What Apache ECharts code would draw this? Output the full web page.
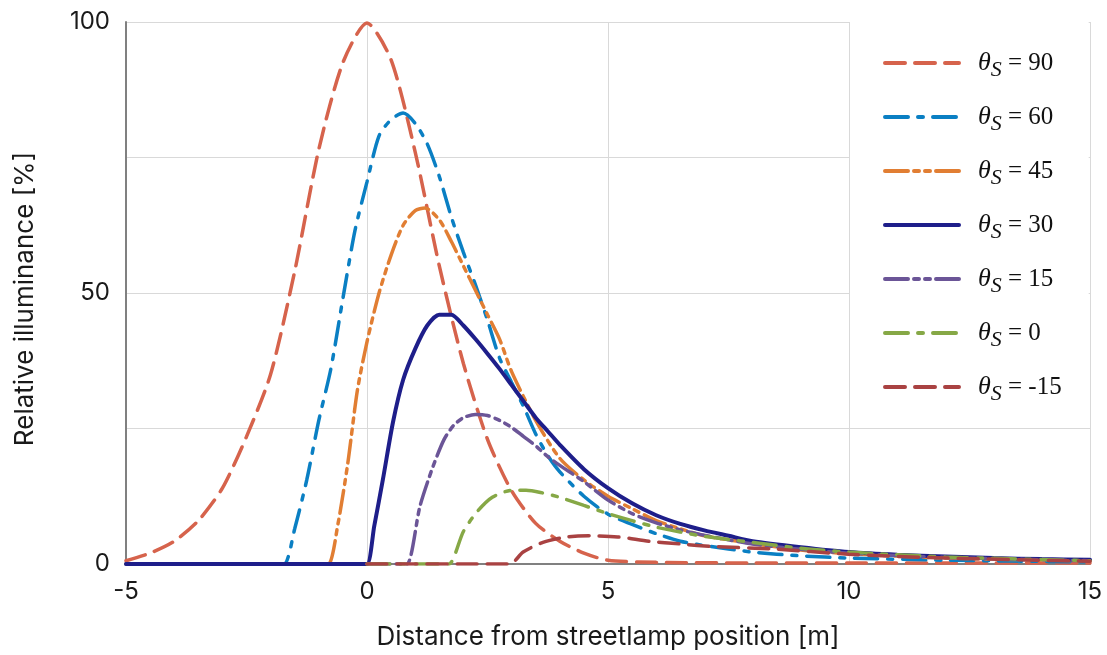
<!DOCTYPE html>
<html>
<head>
<meta charset="utf-8">
<title>Relative illuminance</title>
<script src="https://cdn.jsdelivr.net/npm/echarts@6/dist/echarts.min.js"></script>
<style>
  html, body { margin: 0; padding: 0; background: #fff; }
  #chart { width: 1107px; height: 655px; }
</style>
</head>
<body>
<div id="chart"></div>
<script>
// legend names (theta_S in degrees)
const angles = ['90', '60', '45', '30', '15', '0', '-15']

// [distance m, relative illuminance %]
const theta90 = [[-5, 0.6], [-4.5, 2], [-4, 4.2], [-3.5, 8], [-3, 14], [-2.5, 23.5], [-2, 35], [-1.5, 54], [-1, 76.5], [-0.5, 92.5], [0, 99.8], [0.5, 93], [1, 76], [1.5, 55], [2, 37], [2.5, 23], [3, 13.5], [3.5, 7.5], [4, 4.2], [4.5, 2], [5, 0.7], [6, 0.3], [8, 0.2], [10, 0.2], [12, 0.2], [15, 0.2]]
const theta60 = [[-5, 0], [-2, 0], [-1.72, 0], [-1.5, 6.5], [-1.25, 15.5], [-1, 26.5], [-0.75, 36], [-0.5, 49], [-0.25, 61.5], [0, 70.5], [0.25, 79], [0.5, 82], [0.75, 83.2], [1, 81.3], [1.25, 77.5], [1.5, 71.5], [1.75, 64], [2, 57.5], [2.25, 51.5], [2.5, 45], [2.75, 38], [3, 33.5], [3.25, 29], [3.5, 24], [3.75, 20], [4, 17], [4.5, 12.5], [5, 9.2], [5.5, 7.3], [6, 5.6], [6.5, 4.2], [7, 3.4], [8, 2.2], [9, 1.5], [10, 1.1], [12, 0.7], [15, 0.4]]
const theta45 = [[-5, 0], [-1, 0], [-0.8, 0], [-0.6, 7.5], [-0.4, 18.5], [-0.2, 32], [0, 41], [0.25, 50], [0.5, 57], [0.75, 62.5], [1, 65.2], [1.2, 65.7], [1.5, 63.5], [1.75, 59.5], [2, 55], [2.25, 50.5], [2.5, 46], [2.75, 41.5], [3, 35.5], [3.5, 26.5], [4, 19.5], [4.5, 15.5], [5, 12.5], [5.5, 10.2], [6, 8], [6.5, 6.5], [7, 5.2], [8, 3.8], [9, 2.6], [10, 1.9], [12, 1.1], [15, 0.6]]
const theta30 = [[-5, 0], [-0.2, 0], [0, 0], [0.15, 7], [0.33, 15.6], [0.54, 26.2], [0.75, 34], [1, 39.7], [1.25, 44], [1.5, 46], [1.75, 46], [2, 44], [2.25, 41.5], [2.5, 38.8], [2.75, 36], [3, 33], [3.25, 30], [3.5, 27], [3.75, 24.5], [4, 22], [4.5, 17.5], [5, 14], [5.5, 11.2], [6, 9], [6.5, 7.4], [7, 6.2], [7.5, 5.2], [8, 4.2], [9, 3.1], [10, 2.2], [11, 1.7], [12, 1.4], [13, 1.1], [14, 0.9], [15, 0.8]]
const theta15 = [[0, 0], [0.65, 0], [0.83, 0], [1.1, 10.7], [1.37, 18], [1.6, 23], [1.8, 25.6], [2, 27], [2.25, 27.6], [2.5, 27.4], [2.75, 26.5], [3, 25.2], [3.25, 23.5], [3.5, 21.8], [3.75, 19.8], [4, 18.2], [4.5, 15.2], [5, 11.8], [5.5, 9.3], [6, 7.6], [6.5, 6.3], [7, 5.3], [8, 3.7], [9, 2.7], [10, 2], [12, 1.2], [15, 0.6]]
const theta0 = [[0, 0], [1.5, 0], [1.7, 0], [2, 6], [2.28, 9.6], [2.6, 12.3], [3, 13.6], [3.3, 13.6], [3.6, 13.2], [4, 12.3], [4.5, 10.8], [5, 9.3], [5.5, 8], [6, 6.8], [6.5, 5.9], [7, 5.1], [8, 4], [9, 2.9], [10, 2.2], [12, 1.3], [15, 0.6]]
const thetaM15 = [[0, 0], [2.75, 0], [2.97, 0], [3.24, 2.2], [3.65, 4], [4.15, 5], [4.6, 5.2], [5.2, 5], [5.85, 4.2], [6.5, 3.7], [7.2, 3.2], [8.4, 2.8], [10, 1.8], [12, 1.1], [15, 0.5]]

const seriesData = [theta90, theta60, theta45, theta30, theta15, theta0, thetaM15]

const colors = ['#d6634c', '#0a7fc3', '#e17e33', '#1e1e8a', '#6b5597', '#86a846', '#a94242']
const dashes = [
  [20, 10],
  [23, 10, 5, 10],
  [23, 6, 5, 6, 5, 6],
  'solid',
  [23, 6, 5, 6, 5, 6],
  [23, 10, 5, 10],
  [20, 10]
]

const chart = echarts.init(document.getElementById('chart'), null, { renderer: 'canvas' })

const serifItalic = { fontFamily: 'Liberation Serif', fontStyle: 'italic', fontSize: 26, color: '#111' }
const axisFont = { fontFamily: 'Inter', fontSize: 24, color: '#1a1a1a' }

const option = {
  animation: false,
  grid: { left: 126, right: 17, top: 22, bottom: 90, containLabel: false },
  legend: {
    orient: 'vertical',
    left: 850,
    top: 22,
    padding: [28, 27, 14, 33],
    backgroundColor: '#fff',
    itemWidth: 74,
    itemHeight: 14,
    itemGap: 23,
    itemStyle: { opacity: 0, color: 'transparent', borderWidth: 0 },
    lineStyle: { width: 4 },
    data: angles.map(a => ({ name: a })),
    formatter: name => '{t|θ}{s|S}{n| = ' + name + '}',
    textStyle: {
      rich: {
        t: Object.assign({}, serifItalic, { padding: [0, 0, 0, 14] }),
        s: Object.assign({}, serifItalic, { fontSize: 22, padding: [14, 0, 0, 0] }),
        n: { fontFamily: 'Liberation Serif', fontSize: 25, color: '#111' }
      }
    }
  },
  xAxis: {
    type: 'value',
    min: -5,
    max: 15,
    interval: 5,
    name: 'Distance from streetlamp position [m]',
    nameLocation: 'middle',
    nameGap: 60,
    nameTextStyle: Object.assign({}, axisFont, { fontSize: 26 }),
    axisLine: { onZero: false, lineStyle: { color: '#808080', width: 2 } },
    axisTick: { show: false },
    axisLabel: Object.assign({}, axisFont, { margin: 16 }),
    splitLine: { show: true, lineStyle: { color: '#d9d9d9', width: 1 } }
  },
  yAxis: {
    type: 'value',
    min: 0,
    max: 100,
    interval: 25,
    name: 'Relative illuminance [%]',
    nameLocation: 'middle',
    nameGap: 88,
    nameTextStyle: Object.assign({}, axisFont, { fontSize: 26, padding: [0, 12, 0, 0] }),
    axisLine: { show: true, onZero: false, lineStyle: { color: '#808080', width: 2 } },
    axisTick: { show: false },
    axisLabel: Object.assign({}, axisFont, {
      margin: 16,
      formatter: v => (v % 50 === 0 ? String(v) : '')
    }),
    splitLine: { show: true, lineStyle: { color: '#d9d9d9', width: 1 } }
  },
  series: angles.map((a, i) => ({
    name: a,
    type: 'line',
    data: seriesData[i],
    symbol: 'none',
    showSymbol: false,
    smooth: 0.25,
    color: colors[i],
    lineStyle: { color: colors[i], width: i === 3 ? 4 : 3.5, type: dashes[i], cap: 'round' },
    z: 2 + i
  }))
}

chart.setOption(option)
window.addEventListener('resize', chart.resize)
</script>
</body>
</html>
